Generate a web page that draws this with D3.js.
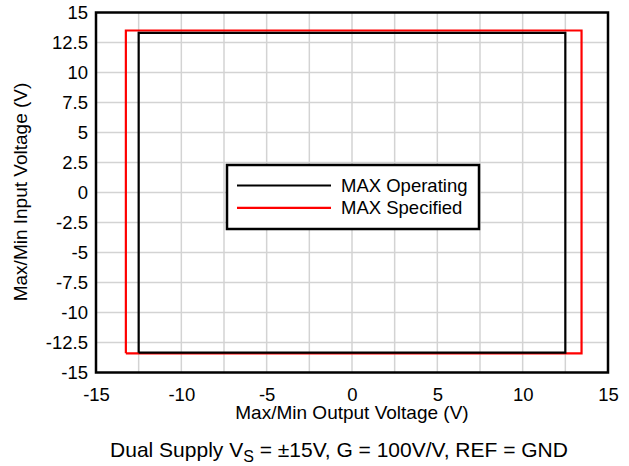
<!DOCTYPE html>
<html><head><meta charset="utf-8">
<script src="https://cdn.jsdelivr.net/npm/d3@7"></script>
<style>body{margin:0;background:#fff;} text{font-family:"Liberation Sans",Arial,sans-serif;fill:#000;}</style>
</head><body><svg id="c" width="629" height="466"></svg>
<script>
const xTicks = [-15,-10,-5,0,5,10,15];
const yTicks = [-15,-12.5,-10,-7.5,-5,-2.5,0,2.5,5,7.5,10,12.5,15];
const gridVals = [-12.5,-10,-7.5,-5,-2.5,0,2.5,5,7.5,10,12.5];
const seriesNames = ["MAX Operating","MAX Specified"];
const seriesColors = ["#000000","#ff0000"];
const operatingX = [-12.5,-12.5,12.5,12.5,-12.5];
const operatingY = [-13.35,13.3,13.3,-13.35,-13.35];
const specifiedX = [-13.25,-13.25,13.45,13.45,-13.25];
const specifiedY = [-13.4,13.5,13.5,-13.4,-13.4];

const svg = d3.select("#c");
const L=96,R=608,T=12.5,B=372.5;
const x = d3.scaleLinear().domain([-15,15]).range([L,R]);
const y = d3.scaleLinear().domain([-15,15]).range([B,T]);
const fmt = d=>String(d);

const g = svg.append("g");
g.selectAll(".gx").data(gridVals).enter().append("line")
 .attr("x1",d=>x(d)).attr("x2",d=>x(d)).attr("y1",T).attr("y2",B)
 .attr("stroke","#d3d3d3").attr("stroke-width",1.5);
g.selectAll(".gy").data(gridVals).enter().append("line")
 .attr("y1",d=>y(d)).attr("y2",d=>y(d)).attr("x1",L).attr("x2",R)
 .attr("stroke","#d3d3d3").attr("stroke-width",1.5);

const line = d3.line().x(d=>x(d[0])).y(d=>y(d[1]));
const series = [d3.zip(operatingX,operatingY), d3.zip(specifiedX,specifiedY)];
[1,0].forEach(i=>{
  svg.append("path").attr("d",line(series[i])).attr("fill","none")
   .attr("stroke",seriesColors[i]).attr("stroke-width",2.2).attr("stroke-linejoin","miter");
});

svg.append("rect").attr("x",L).attr("y",T).attr("width",R-L).attr("height",B-T)
 .attr("fill","none").attr("stroke","#000").attr("stroke-width",2.5);

const xa = svg.append("g").attr("transform",`translate(0,${B})`)
 .call(d3.axisBottom(x).tickValues(xTicks).tickSize(0).tickPadding(15.5).tickFormat(fmt));
xa.select(".domain").remove();
xa.selectAll("text").style("font-size","18.5px").style("font-family","Liberation Sans, Arial, sans-serif").attr("fill","#000");
const ya = svg.append("g").attr("transform",`translate(${L},0)`)
 .call(d3.axisLeft(y).tickValues(yTicks).tickSize(0).tickPadding(8).tickFormat(fmt));
ya.select(".domain").remove();
ya.selectAll("text").style("font-size","18.5px").style("font-family","Liberation Sans, Arial, sans-serif").attr("fill","#000");

svg.append("text").attr("x",352).attr("y",419).attr("text-anchor","middle")
 .style("font-size","19px").text("Max/Min Output Voltage (V)");
svg.append("text").attr("transform","translate(27,192) rotate(-90)").attr("text-anchor","middle")
 .style("font-size","19px").text("Max/Min Input Voltage (V)");

const cap = svg.append("text").attr("x",339).attr("y",457).attr("text-anchor","middle").style("font-size","21px");
cap.append("tspan").text("Dual Supply V");
cap.append("tspan").attr("dy",5).style("font-size","16px").text("S");
cap.append("tspan").attr("dy",-5).text(" = ±15V, G = 100V/V, REF = GND");

const lg = svg.append("g");
lg.append("rect").attr("x",227).attr("y",165).attr("width",252).attr("height",64)
 .attr("fill","#fff").attr("stroke","#000").attr("stroke-width",2.5);
seriesNames.forEach((n,i)=>{
  const yy = 185.5 + i*22.3;
  lg.append("line").attr("x1",237).attr("x2",331).attr("y1",yy).attr("y2",yy)
   .attr("stroke",seriesColors[i]).attr("stroke-width",2.2);
  lg.append("text").attr("x",341).attr("y",yy+6.5).style("font-size","18.5px").text(n);
});
</script></body></html>
